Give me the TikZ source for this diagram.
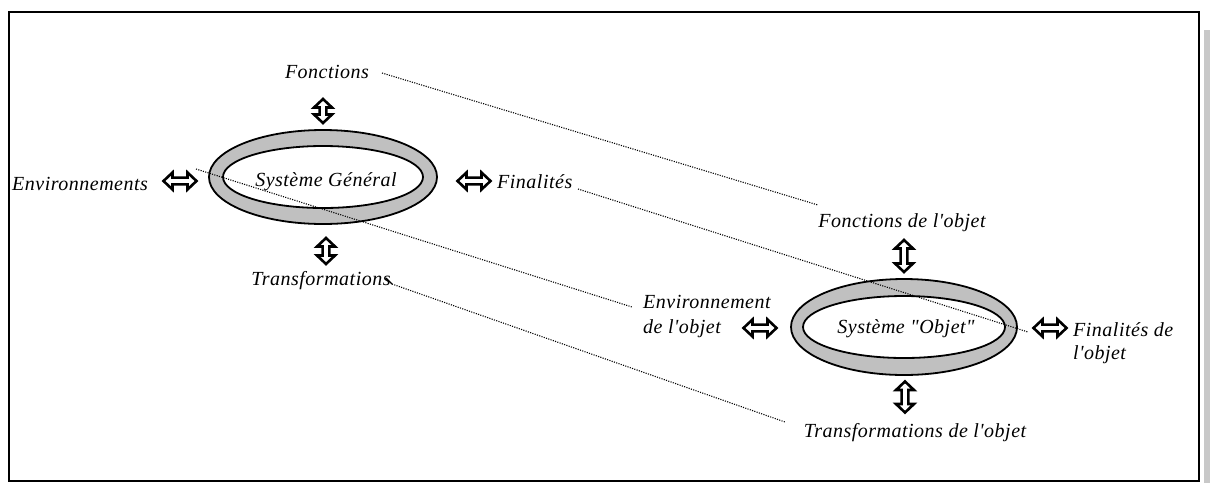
\documentclass[tikz,border=0pt]{standalone}
\usepackage{fontspec}
\setmainfont{Liberation Serif}[LetterSpace=2.5, Ligatures=TeXOff]
\definecolor{ringgray}{HTML}{C0C0C0}
\definecolor{bargray}{HTML}{C8C8C8}
\begin{document}
\begin{tikzpicture}[x=1pt,y=-1pt,
  lbl/.style={font=\fontsize{20}{24}\selectfont\itshape, inner sep=0pt},
  dots/.style={line width=1.1pt, dash pattern=on 1.1pt off 1.3pt},
  arrowbox/.style={draw=black, fill=white, line width=2.6pt, line join=miter},
  harrow/.pic={\draw[arrowbox] (-16.5,0) -- (-7.5,8.5) -- (-7.5,3.4) -- (7.5,3.4) -- (7.5,8.5) -- (16.5,0) -- (7.5,-8.5) -- (7.5,-3.4) -- (-7.5,-3.4) -- (-7.5,-8.5) -- cycle;},
  varrow/.pic={\draw[arrowbox] (0,-#1) -- (9,-#1+8.5) -- (3.4,-#1+8.5) -- (3.4,#1-8.5) -- (9,#1-8.5) -- (0,#1) -- (-9,#1-8.5) -- (-3.4,#1-8.5) -- (-3.4,-#1+8.5) -- (-9,-#1+8.5) -- cycle;}
]
\useasboundingbox (0,0) rectangle (1210,483);
\fill[white] (0,0) rectangle (1210,483);
% frame and shadow bar
\fill[bargray] (1204,30) rectangle (1210,483);
\draw[line width=1.6pt] (9,12) rectangle (1199,481);

% ellipses
\fill[ringgray, draw=black, line width=1.8pt] (323,177) ellipse [x radius=114, y radius=47];
\fill[white, draw=black, line width=1.8pt] (323,177) ellipse [x radius=100, y radius=31];
\fill[ringgray, draw=black, line width=1.8pt] (904,327) ellipse [x radius=113, y radius=48];
\fill[white, draw=black, line width=1.8pt] (904,327) ellipse [x radius=101, y radius=31];

% labels, general system
\node[lbl, anchor=base] (sg) at (326,186) {Système Général};
\node[lbl, anchor=base] (fct) at (327,78) {Fonctions};
\node[lbl, anchor=base west] (env) at (12,190) {Environnements};
\node[lbl, anchor=base west] (fin) at (497,188) {Finalités};
\node[lbl, anchor=base] (trf) at (321,285) {Transformations};

% labels, object system
\node[lbl, anchor=base] (so) at (906,333) {Système "Objet"};
\node[lbl, anchor=base] (fcto) at (902,227) {Fonctions de l'objet};
\node[lbl, anchor=base west] (envo1) at (643,308) {Environnement};
\node[lbl, anchor=base west] (envo2) at (643,333) {de l'objet};
\node[lbl, anchor=base west] (fino1) at (1073,336) {Finalités de};
\node[lbl, anchor=base west] (fino2) at (1073,359) {l'objet};
\node[lbl, anchor=base] (trfo) at (915,437) {Transformations de l'objet};

% block double arrows
\pic (a1) at (323,111) {varrow=12};
\pic (a2) at (326,251) {varrow=13};
\pic (a3) at (180,181) {harrow};
\pic (a4) at (474,181) {harrow};
\pic (a5) at (904,256) {varrow=16};
\pic (a6) at (905,397) {varrow=15.5};
\pic (a7) at (760,328) {harrow};
\pic (a8) at (1050,328) {harrow};

% dotted correspondences
\coordinate (d1s) at (382,73);  \coordinate (d1e) at (818,205);
\coordinate (d2s) at (578,189); \coordinate (d2e) at (1028,332);
\coordinate (d3s) at (196,169); \coordinate (d3e) at (632,307);
\coordinate (t0) at (386,278);  \coordinate (d4s) at (392,284); \coordinate (d4e) at (785,422);
\draw[dots] (d1s) -- (d1e);
\draw[dots] (d2s) -- (d2e);
\draw[dots] (d3s) -- (d3e);
\draw[line width=1.4pt] (t0) -- (d4s);
\draw[dots] (d4s) -- (d4e);
\end{tikzpicture}
\end{document}
